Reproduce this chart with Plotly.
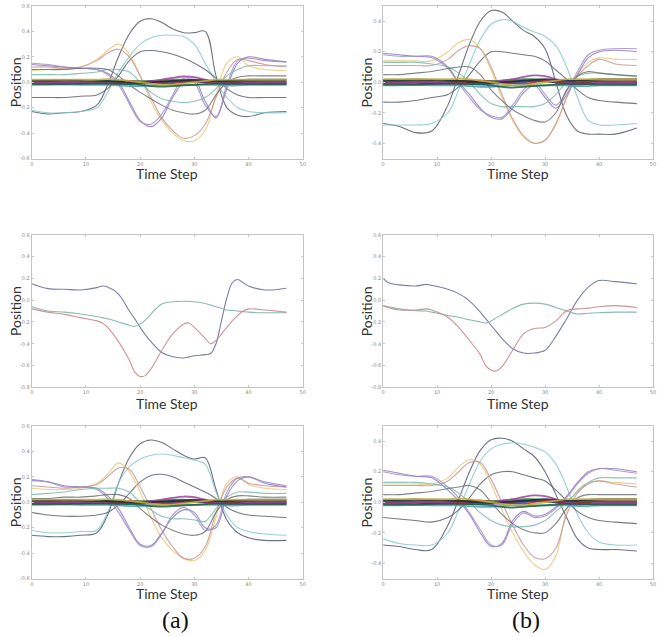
import plotly.graph_objects as go

# ---------------- data ----------------
T = [0, 3, 6, 9, 12, 14, 16, 18, 20, 22, 24, 26, 28, 30, 32, 34, 36, 38, 40, 43, 47]
X_TICKS = [0, 10, 20, 30, 40, 50]

# top-left (a)
TL_A = [-0.23,-0.25,-0.24,-0.23,-0.18,-0.02,0.2,0.38,0.48,0.5,0.47,0.42,0.39,0.39,0.4,0.05,-0.2,-0.26,-0.27,-0.24,-0.23]
TL_B = [-0.22,-0.24,-0.24,-0.23,-0.2,-0.08,0.08,0.2,0.3,0.35,0.37,0.37,0.36,0.3,0.15,0.0,-0.12,-0.2,-0.23,-0.24,-0.24]
TL_C = [-0.12,-0.12,-0.12,-0.11,-0.1,-0.05,0.05,0.17,0.24,0.25,0.24,0.22,0.19,0.15,0.1,0.03,-0.05,-0.1,-0.12,-0.12,-0.12]
TL_D = [0.09,0.1,0.11,0.12,0.18,0.25,0.3,0.22,0.05,-0.15,-0.3,-0.4,-0.46,-0.46,-0.38,-0.1,0.15,0.2,0.13,0.1,0.09]
TL_E = [0.12,0.12,0.11,0.12,0.17,0.23,0.26,0.2,0.05,-0.12,-0.28,-0.38,-0.44,-0.42,-0.33,-0.12,0.08,0.18,0.17,0.14,0.12]
TL_F = [0.14,0.13,0.12,0.11,0.1,0.07,0.0,-0.15,-0.3,-0.35,-0.28,-0.12,0.0,0.02,-0.15,-0.28,-0.05,0.15,0.2,0.18,0.16]
TL_G = [0.15,0.14,0.12,0.11,0.1,0.06,-0.02,-0.17,-0.31,-0.33,-0.25,-0.1,0.03,0.0,-0.18,-0.27,-0.02,0.17,0.19,0.17,0.16]
TL_H = [0.06,0.06,0.06,0.07,0.08,0.1,0.1,0.08,0.0,-0.08,-0.13,-0.15,-0.16,-0.15,-0.12,-0.05,0.05,0.1,0.13,0.13,0.13]
TL_I = [0.1,0.1,0.1,0.11,0.11,0.1,0.05,-0.02,-0.08,-0.13,-0.18,-0.22,-0.24,-0.25,-0.22,-0.1,0.0,0.04,0.05,0.05,0.05]

# top-right (b)
TR_A = [-0.27,-0.29,-0.33,-0.32,-0.15,0.05,0.25,0.4,0.47,0.46,0.4,0.34,0.3,0.22,0.0,-0.22,-0.32,-0.34,-0.34,-0.34,-0.3]
TR_B = [-0.28,-0.28,-0.28,-0.27,-0.2,-0.05,0.12,0.28,0.38,0.41,0.4,0.36,0.33,0.3,0.24,0.1,-0.1,-0.25,-0.28,-0.28,-0.27]
TR_C = [-0.13,-0.13,-0.12,-0.1,-0.08,-0.03,0.05,0.14,0.2,0.2,0.19,0.18,0.17,0.14,0.08,0.02,-0.05,-0.1,-0.12,-0.13,-0.14]
TR_D = [0.14,0.14,0.14,0.14,0.2,0.26,0.28,0.22,0.08,-0.1,-0.25,-0.36,-0.4,-0.38,-0.28,-0.1,0.05,0.13,0.16,0.15,0.15]
TR_E = [0.11,0.11,0.11,0.11,0.15,0.21,0.24,0.22,0.1,-0.08,-0.24,-0.35,-0.4,-0.38,-0.27,-0.1,0.04,0.11,0.15,0.12,0.11]
TR_F = [0.19,0.18,0.17,0.17,0.1,0.0,-0.08,-0.17,-0.23,-0.24,-0.17,-0.07,-0.02,-0.1,-0.17,-0.08,0.05,0.16,0.2,0.21,0.2]
TR_G = [0.18,0.17,0.17,0.16,0.09,-0.01,-0.1,-0.18,-0.22,-0.23,-0.15,-0.05,0.0,-0.08,-0.15,-0.06,0.07,0.18,0.21,0.22,0.22]
TR_H = [0.13,0.13,0.13,0.12,0.1,0.06,0.0,-0.08,-0.14,-0.16,-0.16,-0.16,-0.16,-0.14,-0.08,0.0,0.04,0.06,0.06,0.05,0.04]
TR_I = [0.05,0.05,0.06,0.07,0.09,0.1,0.1,0.05,-0.05,-0.12,-0.18,-0.22,-0.25,-0.26,-0.2,-0.05,0.04,0.07,0.06,0.05,0.04]

# bottom-left (a)
BL_A = [-0.26,-0.27,-0.27,-0.26,-0.24,-0.1,0.15,0.35,0.46,0.49,0.47,0.42,0.37,0.34,0.35,0.1,-0.14,-0.24,-0.28,-0.3,-0.3]
BL_B = [-0.22,-0.24,-0.24,-0.23,-0.22,-0.08,0.15,0.28,0.34,0.37,0.38,0.37,0.35,0.33,0.3,0.08,-0.1,-0.2,-0.23,-0.25,-0.26]
BL_C = [-0.08,-0.1,-0.11,-0.11,-0.1,-0.08,-0.02,0.07,0.16,0.21,0.22,0.2,0.16,0.12,0.08,0.03,-0.04,-0.08,-0.1,-0.11,-0.12]
BL_D = [0.11,0.1,0.1,0.11,0.15,0.22,0.31,0.24,0.08,-0.12,-0.28,-0.38,-0.44,-0.46,-0.38,-0.12,0.15,0.2,0.14,0.11,0.1]
BL_E = [0.13,0.12,0.11,0.12,0.14,0.2,0.27,0.26,0.12,-0.05,-0.22,-0.35,-0.44,-0.44,-0.35,-0.08,0.12,0.19,0.15,0.13,0.12]
BL_F = [0.17,0.16,0.13,0.12,0.11,0.05,-0.05,-0.2,-0.33,-0.34,-0.24,-0.12,-0.06,-0.08,-0.2,-0.2,0.05,0.17,0.2,0.15,0.12]
BL_G = [0.18,0.16,0.12,0.12,0.1,0.03,-0.08,-0.22,-0.34,-0.35,-0.25,-0.1,-0.04,-0.1,-0.22,-0.18,0.08,0.19,0.2,0.16,0.13]
BL_H = [0.06,0.07,0.08,0.1,0.11,0.11,0.11,0.08,0.0,-0.06,-0.11,-0.13,-0.13,-0.14,-0.15,-0.05,0.04,0.08,0.08,0.07,0.07]
BL_I = [0.03,0.03,0.04,0.04,0.05,0.06,0.06,0.03,-0.05,-0.12,-0.18,-0.22,-0.25,-0.26,-0.23,-0.08,0.02,0.05,0.05,0.04,0.04]

# bottom-right (b)
BR_A = [-0.28,-0.29,-0.31,-0.31,-0.15,0.02,0.2,0.34,0.41,0.42,0.4,0.35,0.3,0.2,0.05,-0.1,-0.24,-0.3,-0.31,-0.31,-0.32]
BR_B = [-0.24,-0.27,-0.28,-0.28,-0.2,-0.05,0.12,0.27,0.35,0.38,0.39,0.38,0.36,0.33,0.25,0.1,-0.08,-0.2,-0.26,-0.28,-0.28]
BR_C = [-0.1,-0.11,-0.12,-0.13,-0.1,-0.05,0.03,0.12,0.18,0.2,0.2,0.18,0.16,0.14,0.08,0.01,-0.06,-0.1,-0.12,-0.13,-0.14]
BR_D = [0.12,0.12,0.12,0.12,0.16,0.23,0.28,0.25,0.12,-0.05,-0.2,-0.32,-0.41,-0.44,-0.35,-0.05,0.08,0.13,0.14,0.13,0.12]
BR_E = [0.11,0.11,0.11,0.11,0.14,0.2,0.26,0.26,0.15,0.0,-0.15,-0.28,-0.36,-0.37,-0.3,-0.08,0.06,0.12,0.14,0.12,0.1]
BR_F = [0.21,0.19,0.17,0.16,0.08,0.01,-0.08,-0.2,-0.29,-0.27,-0.12,-0.06,-0.09,-0.08,-0.03,0.04,0.13,0.2,0.22,0.22,0.2]
BR_G = [0.2,0.18,0.17,0.17,0.1,0.03,-0.07,-0.18,-0.28,-0.28,-0.14,-0.07,-0.1,-0.09,-0.04,0.03,0.12,0.19,0.22,0.21,0.19]
BR_H = [0.13,0.13,0.13,0.12,0.1,0.06,0.0,-0.07,-0.12,-0.15,-0.16,-0.16,-0.15,-0.12,-0.06,0.0,0.07,0.13,0.16,0.16,0.16]
BR_I = [0.05,0.05,0.06,0.07,0.09,0.1,0.11,0.08,0.0,-0.08,-0.14,-0.18,-0.2,-0.2,-0.14,-0.04,0.03,0.05,0.05,0.05,0.05]

# near-zero band (many joints that barely move)
BAND_1 = [0.0,0.005,0.0,-0.005,0.0,0.005,0.0,-0.005,0.0,0.0,0.005,0.01,0.01,0.005,0.0,0.0,-0.005,0.0,0.005,0.0,0.0]
BAND_2 = [-0.01,-0.01,-0.012,-0.01,-0.01,-0.008,-0.01,-0.012,-0.01,-0.008,-0.005,0.0,0.01,0.01,0.0,-0.01,-0.015,-0.012,-0.01,-0.01,-0.01]
BAND_3 = [0.01,0.012,0.01,0.01,0.008,0.01,0.012,0.01,0.008,0.01,0.015,0.02,0.02,0.015,0.01,0.005,0.01,0.012,0.015,0.015,0.015]
BAND_4 = [0.005,0.0,0.005,0.005,0.0,0.0,0.005,0.01,0.005,0.0,-0.005,-0.01,0.0,0.01,0.005,0.0,0.0,0.005,0.005,0.005,0.005]
BAND_5 = [-0.005,-0.005,0.0,0.0,-0.005,-0.01,-0.01,-0.005,0.0,0.01,0.02,0.035,0.045,0.04,0.02,0.0,-0.01,-0.01,-0.005,-0.005,-0.005]
BAND_6 = [-0.02,-0.02,-0.018,-0.02,-0.02,-0.02,-0.025,-0.03,-0.03,-0.025,-0.02,-0.02,-0.02,-0.02,-0.02,-0.02,-0.025,-0.025,-0.02,-0.02,-0.02]
BAND_7 = [0.015,0.015,0.018,0.015,0.012,0.01,0.005,0.0,-0.005,0.0,0.005,0.01,0.015,0.02,0.015,0.01,0.01,0.015,0.02,0.02,0.02]
BAND_8 = [0.02,0.02,0.02,0.02,0.02,0.025,0.02,0.01,0.0,-0.01,-0.02,-0.02,-0.01,0.0,0.01,0.02,0.02,0.02,0.02,0.02,0.02]
BAND_9 = [-0.015,-0.015,-0.015,-0.012,-0.01,-0.01,-0.012,-0.015,-0.02,-0.03,-0.035,-0.03,-0.025,-0.02,-0.015,-0.01,-0.01,-0.012,-0.015,-0.015,-0.015]

# middle-left (a)
ML_T = [0,3,6,9,12,13,14,16,18,19,20,21,22,24,26,28,29,30,32,33,34,35,36,37,38,39,40,43,47]
ML_P = [0.15,0.106,0.10,0.094,0.115,0.13,0.12,0.055,-0.10,-0.17,-0.25,-0.32,-0.38,-0.48,-0.52,-0.53,-0.52,-0.51,-0.50,-0.49,-0.40,-0.19,0.02,0.16,0.19,0.16,0.13,0.094,0.11]
ML_Q = [-0.06,-0.10,-0.11,-0.127,-0.15,-0.16,-0.17,-0.20,-0.23,-0.24,-0.22,-0.18,-0.127,-0.036,-0.015,-0.01,-0.012,-0.015,-0.03,-0.045,-0.06,-0.075,-0.09,-0.095,-0.10,-0.105,-0.11,-0.115,-0.115]
ML_R = [-0.08,-0.11,-0.13,-0.16,-0.19,-0.21,-0.25,-0.38,-0.55,-0.66,-0.70,-0.69,-0.63,-0.46,-0.31,-0.22,-0.21,-0.25,-0.35,-0.40,-0.37,-0.31,-0.25,-0.19,-0.14,-0.10,-0.08,-0.09,-0.11]

# middle-right (b)
MR_T = [0,1,3,6,8,9,12,14,16,18,19,20,21,22,24,26,28,30,32,34,36,38,40,43,47]
MR_P = [0.2,0.16,0.14,0.13,0.145,0.136,0.1,0.06,-0.006,-0.11,-0.17,-0.23,-0.29,-0.35,-0.445,-0.485,-0.485,-0.46,-0.33,-0.17,0.0,0.12,0.18,0.17,0.15]
MR_Q = [-0.05,-0.06,-0.08,-0.097,-0.10,-0.11,-0.14,-0.157,-0.18,-0.2,-0.21,-0.19,-0.16,-0.133,-0.076,-0.036,-0.027,-0.036,-0.067,-0.1,-0.127,-0.12,-0.115,-0.11,-0.11]
MR_R = [-0.05,-0.07,-0.09,-0.09,-0.08,-0.09,-0.157,-0.25,-0.37,-0.5,-0.6,-0.64,-0.65,-0.61,-0.46,-0.31,-0.26,-0.25,-0.19,-0.097,-0.08,-0.073,-0.06,-0.05,-0.067]

# ---------------- styling ----------------
W, H = 663, 637
CURVE_COLORS = ["#555c6c", "#86caca", "#5c6474", "#e8c878", "#c99494",
                "#8a7cc4", "#a08cc4", "#7cb8b0", "#6c7078"]
BAND_COLORS = ["#1a1a1a", "#2a3aa8", "#2f8a3a", "#b03030", "#a040a0",
               "#40a0b0", "#203040", "#c8b040", "#206040"]
MID_COLORS = ["#6c7498", "#7fb4a8", "#c68a8a"]

BANDS = [BAND_1, BAND_2, BAND_3, BAND_4, BAND_5, BAND_6, BAND_7, BAND_8, BAND_9]
PANELS = [
    dict(kind="big", curves=[TL_A, TL_B, TL_C, TL_D, TL_E, TL_F, TL_G, TL_H, TL_I],
         yr=[-0.6, 0.6], yt=[-0.6, -0.4, -0.2, 0.0, 0.2, 0.4, 0.6], col=0, row=0),
    dict(kind="big", curves=[TR_A, TR_B, TR_C, TR_D, TR_E, TR_F, TR_G, TR_H, TR_I],
         yr=[-0.5, 0.5], yt=[-0.4, -0.2, 0.0, 0.2, 0.4], col=1, row=0),
    dict(kind="mid", t=ML_T, curves=[ML_P, ML_Q, ML_R],
         yr=[-0.8, 0.6], yt=[-0.8, -0.6, -0.4, -0.2, 0.0, 0.2, 0.4, 0.6], col=0, row=1),
    dict(kind="mid", t=MR_T, curves=[MR_P, MR_Q, MR_R],
         yr=[-0.8, 0.6], yt=[-0.8, -0.6, -0.4, -0.2, 0.0, 0.2, 0.4, 0.6], col=1, row=1),
    dict(kind="big", curves=[BL_A, BL_B, BL_C, BL_D, BL_E, BL_F, BL_G, BL_H, BL_I],
         yr=[-0.6, 0.6], yt=[-0.6, -0.4, -0.2, 0.0, 0.2, 0.4, 0.6], col=0, row=2),
    dict(kind="big", curves=[BR_A, BR_B, BR_C, BR_D, BR_E, BR_F, BR_G, BR_H, BR_I],
         yr=[-0.5, 0.5], yt=[-0.4, -0.2, 0.0, 0.2, 0.4], col=1, row=2),
]

COL_PX = [(30, 303), (384, 656)]
ROW_PX = [(3, 157), (234, 388), (427, 581)]
XTITLE_Y = [172, 404, 596]

fig = go.Figure()
layout = dict(width=W, height=H, margin=dict(l=0, r=0, t=0, b=0),
              paper_bgcolor="white", plot_bgcolor="white", showlegend=False)
annotations = []

for i, p in enumerate(PANELS):
    k = i + 1
    xa = "x" if k == 1 else f"x{k}"
    ya = "y" if k == 1 else f"y{k}"
    x0, x1 = COL_PX[p["col"]]
    y0, y1 = ROW_PX[p["row"]]
    axis_common = dict(showgrid=False, zeroline=False, showline=True, mirror="ticks",
                       linecolor="#c4c4c4", linewidth=1, ticks="inside", ticklen=2,
                       tickcolor="#c4c4c4", tickfont=dict(size=5, color="#8a8a8a", family="DejaVu Sans"))
    layout["xaxis" if k == 1 else f"xaxis{k}"] = dict(
        axis_common, domain=[x0 / W, x1 / W], anchor=ya, range=[0, 50],
        tickvals=X_TICKS, ticktext=[str(v) for v in X_TICKS])
    layout["yaxis" if k == 1 else f"yaxis{k}"] = dict(
        axis_common, domain=[1 - y1 / H, 1 - y0 / H], anchor=xa, range=p["yr"],
        tickvals=p["yt"], ticktext=[f"{v:.1f}" for v in p["yt"]])

    if p["kind"] == "big":
        for c, ys in enumerate(p["curves"]):
            fig.add_trace(go.Scatter(x=T, y=ys, xaxis=xa, yaxis=ya, mode="lines",
                                     line=dict(color=CURVE_COLORS[c], width=1.1, shape="spline"),
                                     opacity=0.85, hoverinfo="skip"))
        for b, ys in enumerate(BANDS):
            fig.add_trace(go.Scatter(x=T, y=ys, xaxis=xa, yaxis=ya, mode="lines",
                                     line=dict(color=BAND_COLORS[b], width=1.8, shape="spline"),
                                     opacity=0.85, hoverinfo="skip"))
    else:
        for c, ys in enumerate(p["curves"]):
            fig.add_trace(go.Scatter(x=p["t"], y=ys, xaxis=xa, yaxis=ya, mode="lines",
                                     line=dict(color=MID_COLORS[c], width=1.1, shape="spline"),
                                     opacity=0.9, hoverinfo="skip"))

    annotations.append(dict(text="Time Step", xref="paper", yref="paper",
                            x=(x0 + x1) / 2 / W, y=1 - XTITLE_Y[p["row"]] / H,
                            showarrow=False, font=dict(family="Lato", size=14, color="#333333"),
                            xanchor="center", yanchor="middle"))
    annotations.append(dict(text="Position", xref="paper", yref="paper",
                            x=(x0 - 17) / W, y=1 - (y0 + y1) / 2 / H, textangle=-90,
                            showarrow=False, font=dict(family="Lato", size=14, color="#333333"),
                            xanchor="center", yanchor="middle"))

annotations.append(dict(text="(a)", xref="paper", yref="paper", x=175 / W, y=1 - 623 / H,
                        showarrow=False, font=dict(family="Liberation Serif", size=24, color="#111111"),
                        xanchor="center", yanchor="middle"))
annotations.append(dict(text="(b)", xref="paper", yref="paper", x=528 / W, y=1 - 623 / H,
                        showarrow=False, font=dict(family="Liberation Serif", size=24, color="#111111"),
                        xanchor="center", yanchor="middle"))
layout["annotations"] = annotations
fig.update_layout(**layout)
fig.write_html("out.html", config={"displayModeBar": False},
               post_script="document.body.style.margin='0';document.body.style.padding='0';")
